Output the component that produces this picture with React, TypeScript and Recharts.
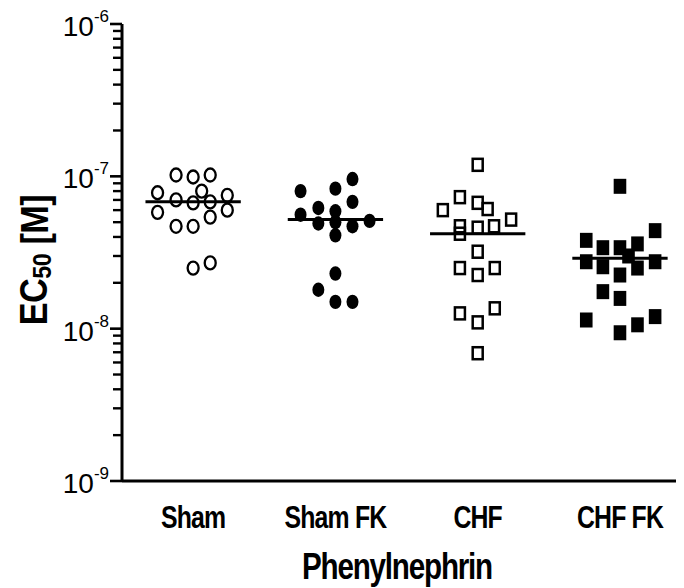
import { Label, ReferenceLine, Scatter, ScatterChart, XAxis, YAxis } from 'recharts';

const groups = ['Sham', 'Sham FK', 'CHF', 'CHF FK'];

// EC50 (M) per animal, plus the horizontal spread used inside each column
const shamValues = [1.02e-7, 9.9e-8, 1.02e-7, 7.8e-8, 8.0e-8, 7.5e-8, 7.0e-8, 6.7e-8, 6.8e-8, 5.8e-8, 6.0e-8, 5.4e-8, 4.7e-8, 4.7e-8, 2.5e-8, 2.7e-8];
const shamOffsets = [-0.12, 0, 0.12, -0.25, 0.06, 0.24, -0.12, 0, 0.12, -0.25, 0.24, 0.12, -0.12, 0, 0, 0.12];

const shamFkValues = [8.0e-8, 8.3e-8, 9.6e-8, 6.8e-8, 6.2e-8, 5.9e-8, 5.6e-8, 4.9e-8, 5.0e-8, 4.7e-8, 5.1e-8, 4.1e-8, 2.3e-8, 1.8e-8, 1.5e-8, 1.5e-8];
const shamFkOffsets = [-0.245, 0, 0.12, 0.12, -0.12, 0, -0.245, -0.12, 0, 0.12, 0.24, 0, 0, -0.12, 0, 0.12];

const chfValues = [1.19e-7, 7.3e-8, 6.7e-8, 6.1e-8, 6.0e-8, 5.2e-8, 4.7e-8, 4.2e-8, 4.6e-8, 4.7e-8, 3.2e-8, 2.5e-8, 2.25e-8, 2.5e-8, 1.26e-8, 1.1e-8, 1.36e-8, 6.9e-9];
const chfOffsets = [0, -0.125, 0, 0.07, -0.245, 0.235, -0.125, -0.125, 0, 0.115, 0, -0.125, 0, 0.12, -0.125, 0, 0.12, 0];

const chfFkValues = [8.6e-8, 4.4e-8, 3.8e-8, 3.4e-8, 3.4e-8, 3.6e-8, 3.0e-8, 2.75e-8, 2.55e-8, 2.5e-8, 2.75e-8, 2.25e-8, 1.75e-8, 1.58e-8, 1.14e-8, 9.4e-9, 1.06e-8, 1.2e-8];
const chfFkOffsets = [0, 0.247, -0.237, -0.12, 0, 0.123, 0.06, -0.237, -0.12, 0.123, 0.247, 0, -0.12, 0, -0.237, 0, 0.123, 0.247];

const medians = [6.8e-8, 5.2e-8, 4.2e-8, 2.9e-8];

const decades = [-9, -8, -7, -6];

const FONT = '"Liberation Sans", Arial, Helvetica, sans-serif';
const MEDIAN_HALF = 0.335;

// log axis: labelled decades plus 2..9 minor marks
const yTicks: number[] = [];
decades.forEach((d) => {
  yTicks.push(Math.pow(10, d));
  if (d < -6) {
    for (let m = 2; m <= 9; m++) yTicks.push(m * Math.pow(10, d));
  }
});

const toPoints = (values: number[], offsets: number[], col: number) =>
  values.map((v, i) => ({ x: col + offsets[i], y: v }));

const OpenCircle = (p: any) => (
  <ellipse cx={p.cx} cy={p.cy} rx={5.5} ry={6.5} fill="none" stroke="#000" strokeWidth={2.3} />
);
const FilledCircle = (p: any) => <ellipse cx={p.cx} cy={p.cy} rx={6} ry={7.2} fill="#000" />;
const OpenSquare = (p: any) => (
  <rect x={p.cx - 5} y={p.cy - 6} width={10} height={12} fill="none" stroke="#000" strokeWidth={2.5} />
);
const FilledSquare = (p: any) => <rect x={p.cx - 6.3} y={p.cy - 7.5} width={12.6} height={15} fill="#000" />;

const YTick = (props: any) => {
  const { x, y, payload } = props;
  const exp = Math.round(Math.log10(payload.value));
  const major = Math.abs(payload.value - Math.pow(10, exp)) < 1e-15;
  if (!major) {
    return <line x1={x - 9} x2={x} y1={y} y2={y} stroke="#000" strokeWidth={2.4} />;
  }
  return (
    <g>
      <line x1={x - 12} x2={x} y1={y} y2={y} stroke="#000" strokeWidth={2.6} />
      <text x={x - 13} y={y + 12} textAnchor="end" fontFamily={FONT} fontSize={28} fill="#000">
        10
        <tspan dy={-14} fontSize={17}>
          {exp}
        </tspan>
      </text>
    </g>
  );
};

// condensed bold group names under each column
const XTick = (props: any) => {
  const { x, y, payload } = props;
  return (
    <text
      transform={`translate(${x}, ${y + 47}) scale(0.8, 1)`}
      textAnchor="middle"
      fontFamily={FONT}
      fontSize={31}
      fontWeight="bold"
      letterSpacing={-1}
      fill="#000"
    >
      {groups[payload.value - 1]}
    </text>
  );
};

export default function App() {
  return (
    <ScatterChart width={676} height={580} margin={{ top: 16, right: 0, bottom: 47, left: 0 }}>
      <XAxis
        type="number"
        dataKey="x"
        domain={[0.5, 4.45]}
        ticks={[1, 2, 3, 4]}
        allowDataOverflow
        height={60}
        tickLine={false}
        tickSize={0}
        tickMargin={0}
        tick={<XTick />}
        axisLine={{ stroke: '#000', strokeWidth: 3 }}
      >
        <Label
          content={() => (
            <text
              transform="translate(389, 571) scale(0.8, 1)"
              textAnchor="middle"
              fontFamily={FONT}
              fontSize={37}
              fontWeight="bold"
              letterSpacing={-1.5}
              fill="#000"
            >
              Phenylnephrin
            </text>
          )}
        />
      </XAxis>
      <YAxis
        type="number"
        dataKey="y"
        scale="log"
        domain={[1e-9, 1e-6]}
        ticks={yTicks}
        interval={0}
        allowDataOverflow
        width={114}
        tickLine={false}
        tickSize={0}
        tickMargin={0}
        tick={<YTick />}
        axisLine={{ stroke: '#000', strokeWidth: 3 }}
      >
        <Label
          content={() => (
            <text
              transform="translate(26, 252) rotate(-90) scale(0.9, 1)"
              textAnchor="middle"
              dominantBaseline="central"
              fontFamily={FONT}
              fontSize={38}
              fontWeight="bold"
              letterSpacing={-0.5}
              fill="#000"
            >
              EC
              <tspan dy={8} fontSize={26}>
                50
              </tspan>
              <tspan dy={-8}> [M]</tspan>
            </text>
          )}
        />
      </YAxis>
      <Scatter data={toPoints(shamValues, shamOffsets, 1)} shape={OpenCircle} isAnimationActive={false} />
      <Scatter data={toPoints(shamFkValues, shamFkOffsets, 2)} shape={FilledCircle} isAnimationActive={false} />
      <Scatter data={toPoints(chfValues, chfOffsets, 3)} shape={OpenSquare} isAnimationActive={false} />
      <Scatter data={toPoints(chfFkValues, chfFkOffsets, 4)} shape={FilledSquare} isAnimationActive={false} />
      {medians.map((m, i) => (
        <ReferenceLine
          key={groups[i]}
          segment={[
            { x: i + 1 - MEDIAN_HALF, y: m },
            { x: i + 1 + MEDIAN_HALF, y: m },
          ]}
          stroke="#000"
          strokeWidth={3}
          ifOverflow="visible"
        />
      ))}
    </ScatterChart>
  );
}
